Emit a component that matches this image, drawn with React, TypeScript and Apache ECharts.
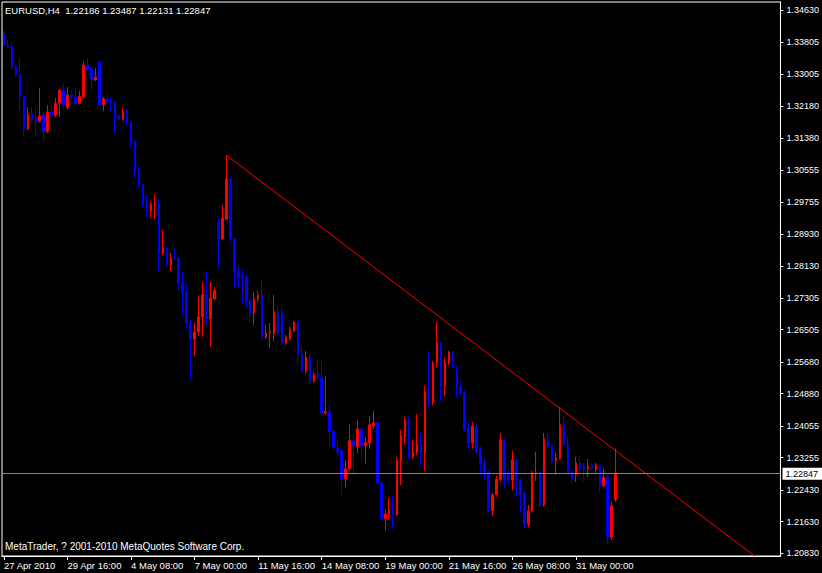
import React, { useEffect, useRef } from "react";
import * as echarts from "echarts";

const titleText = "EURUSD,H4  1.22186 1.23487 1.22131 1.22847";
const copyrightText = "MetaTrader, ? 2001-2010 MetaQuotes Software Corp.";

const opens = [
  1.3404, 1.3374, 1.3371, 1.3320, 1.3300, 1.3244, 1.3160, 1.3198, 1.3188, 1.3181,
  1.3196, 1.3155, 1.3204, 1.3196, 1.3226, 1.3259, 1.3216, 1.3247, 1.3242, 1.3226,
  1.3242, 1.3323, 1.3315, 1.3285, 1.3331, 1.3221, 1.3237, 1.3234, 1.3229, 1.3193,
  1.3186, 1.3209, 1.3178, 1.3130, 1.3051, 1.3021, 1.2972, 1.2952, 1.2967, 1.2970,
  1.2845, 1.2858, 1.2815, 1.2835, 1.2833, 1.2772, 1.2746, 1.2670, 1.2627, 1.2645,
  1.2683, 1.2739, 1.2678, 1.2729, 1.2924, 1.2881, 1.2932, 1.3033, 1.2881, 1.2797,
  1.2787, 1.2784, 1.2726, 1.2693, 1.2729, 1.2739, 1.2632, 1.2642, 1.2642, 1.2696,
  1.2693, 1.2617, 1.2627, 1.2647, 1.2670, 1.2589, 1.2546, 1.2581, 1.2520, 1.2536,
  1.2530, 1.2439, 1.2442, 1.2393, 1.2348, 1.2343, 1.2271, 1.2297, 1.2368, 1.2353,
  1.2398, 1.2355, 1.2363, 1.2406, 1.2414, 1.2261, 1.2170, 1.2180, 1.2193, 1.2180,
  1.2317, 1.2378, 1.2421, 1.2327, 1.2340, 1.2360, 1.2337, 1.2492, 1.2467, 1.2566,
  1.2617, 1.2507, 1.2566, 1.2594, 1.2546, 1.2505, 1.2492, 1.2401, 1.2363, 1.2406,
  1.2348, 1.2312, 1.2289, 1.2190, 1.2231, 1.2269, 1.2370, 1.2282, 1.2269, 1.2320,
  1.2269, 1.2236, 1.2157, 1.2190, 1.2284, 1.2287, 1.2205, 1.2373, 1.2355, 1.2317,
  1.2322, 1.2409, 1.2358, 1.2289, 1.2282, 1.2312, 1.2302, 1.2297, 1.2307, 1.2297,
  1.2307, 1.2253, 1.2276, 1.2124, 1.22186,
];
const highs = [
  1.3412, 1.3386, 1.3381, 1.3323, 1.3341, 1.3246, 1.3216, 1.3216, 1.3214, 1.3265,
  1.3204, 1.3221, 1.3221, 1.3239, 1.3262, 1.3277, 1.3267, 1.3259, 1.3265, 1.3257,
  1.3333, 1.3341, 1.3318, 1.3315, 1.3333, 1.3242, 1.3252, 1.3242, 1.3232, 1.3196,
  1.3214, 1.3211, 1.3181, 1.3132, 1.3066, 1.3023, 1.2993, 1.2975, 1.2995, 1.2983,
  1.2904, 1.2861, 1.2845, 1.2856, 1.2835, 1.2800, 1.2769, 1.2675, 1.2668, 1.2736,
  1.2772, 1.2797, 1.2772, 1.2759, 1.2934, 1.2967, 1.3094, 1.3036, 1.2884, 1.2810,
  1.2802, 1.2790, 1.2729, 1.2746, 1.2749, 1.2777, 1.2663, 1.2668, 1.2739, 1.2711,
  1.2708, 1.2637, 1.2657, 1.2673, 1.2673, 1.2609, 1.2597, 1.2591, 1.2543, 1.2574,
  1.2574, 1.2533, 1.2462, 1.2395, 1.2370, 1.2345, 1.2320, 1.2411, 1.2386, 1.2421,
  1.2400, 1.2378, 1.2431, 1.2444, 1.2416, 1.2263, 1.2195, 1.2223, 1.2226, 1.2327,
  1.2396, 1.2429, 1.2429, 1.2370, 1.2436, 1.2388, 1.2508, 1.2597, 1.2571, 1.2670,
  1.2620, 1.2578, 1.2597, 1.2597, 1.2561, 1.2520, 1.2495, 1.2416, 1.2416, 1.2409,
  1.2353, 1.2322, 1.2292, 1.2236, 1.2279, 1.2388, 1.2373, 1.2294, 1.2343, 1.2322,
  1.2271, 1.2238, 1.2205, 1.2292, 1.2340, 1.2289, 1.2388, 1.2393, 1.2358, 1.2337,
  1.2454, 1.2429, 1.2378, 1.2292, 1.2327, 1.2332, 1.2312, 1.2322, 1.2312, 1.2312,
  1.2310, 1.2297, 1.2279, 1.2213, 1.23487,
];
const lows = [
  1.3369, 1.3366, 1.3310, 1.3292, 1.3209, 1.3143, 1.3158, 1.3176, 1.3140, 1.3178,
  1.3132, 1.3150, 1.3191, 1.3191, 1.3191, 1.3209, 1.3211, 1.3234, 1.3224, 1.3224,
  1.3239, 1.3310, 1.3257, 1.3283, 1.3219, 1.3206, 1.3229, 1.3204, 1.3150, 1.3183,
  1.3183, 1.3168, 1.3115, 1.3036, 1.3011, 1.2960, 1.2937, 1.2937, 1.2932, 1.2800,
  1.2840, 1.2812, 1.2800, 1.2828, 1.2751, 1.2688, 1.2652, 1.2525, 1.2584, 1.2635,
  1.2632, 1.2663, 1.2607, 1.2726, 1.2807, 1.2878, 1.2929, 1.2873, 1.2759, 1.2759,
  1.2718, 1.2708, 1.2668, 1.2663, 1.2721, 1.2624, 1.2627, 1.2604, 1.2622, 1.2637,
  1.2612, 1.2612, 1.2624, 1.2645, 1.2561, 1.2541, 1.2538, 1.2513, 1.2515, 1.2523,
  1.2434, 1.2434, 1.2355, 1.2345, 1.2330, 1.2231, 1.2251, 1.2292, 1.2282, 1.2337,
  1.2320, 1.2309, 1.2348, 1.2398, 1.2259, 1.2165, 1.2139, 1.2167, 1.2144, 1.2178,
  1.2256, 1.2358, 1.2320, 1.2322, 1.2332, 1.2306, 1.2292, 1.2454, 1.2459, 1.2556,
  1.2469, 1.2482, 1.2561, 1.2553, 1.2477, 1.2485, 1.2391, 1.2348, 1.2348, 1.2335,
  1.2282, 1.2269, 1.2185, 1.2177, 1.2226, 1.2264, 1.2248, 1.2261, 1.2243, 1.2226,
  1.2185, 1.2147, 1.2149, 1.2185, 1.2266, 1.2200, 1.2200, 1.2350, 1.2312, 1.2282,
  1.2320, 1.2355, 1.2284, 1.2261, 1.2264, 1.2287, 1.2264, 1.2276, 1.2294, 1.2287,
  1.2238, 1.2251, 1.2106, 1.2116, 1.22131,
];
const closes = [
  1.3374, 1.3369, 1.3318, 1.3298, 1.3242, 1.3160, 1.3198, 1.3186, 1.3181, 1.3193,
  1.3155, 1.3204, 1.3196, 1.3226, 1.3259, 1.3221, 1.3247, 1.3242, 1.3226, 1.3244,
  1.3323, 1.3313, 1.3287, 1.3292, 1.3221, 1.3237, 1.3232, 1.3226, 1.3191, 1.3186,
  1.3206, 1.3176, 1.3127, 1.3051, 1.3018, 1.2967, 1.2952, 1.2970, 1.2970, 1.2845,
  1.2858, 1.2815, 1.2833, 1.2830, 1.2769, 1.2744, 1.2668, 1.2627, 1.2645, 1.2683,
  1.2739, 1.2678, 1.2731, 1.2751, 1.2881, 1.2934, 1.3033, 1.2881, 1.2797, 1.2784,
  1.2782, 1.2724, 1.2693, 1.2729, 1.2739, 1.2632, 1.2642, 1.2645, 1.2696, 1.2642,
  1.2617, 1.2632, 1.2652, 1.2670, 1.2586, 1.2546, 1.2581, 1.2520, 1.2536, 1.2530,
  1.2439, 1.2442, 1.2391, 1.2353, 1.2340, 1.2269, 1.2297, 1.2368, 1.2355, 1.2398,
  1.2355, 1.2363, 1.2409, 1.2414, 1.2261, 1.2170, 1.2182, 1.2193, 1.2180, 1.2317,
  1.2381, 1.2421, 1.2327, 1.2340, 1.2360, 1.2340, 1.2492, 1.2464, 1.2566, 1.2617,
  1.2507, 1.2566, 1.2594, 1.2568, 1.2502, 1.2490, 1.2396, 1.2363, 1.2406, 1.2340,
  1.2309, 1.2289, 1.2190, 1.2231, 1.2271, 1.2370, 1.2269, 1.2269, 1.2320, 1.2269,
  1.2233, 1.2157, 1.2190, 1.2287, 1.2287, 1.2205, 1.2373, 1.2353, 1.2317, 1.2325,
  1.2409, 1.2358, 1.2287, 1.2271, 1.2312, 1.2297, 1.2294, 1.2304, 1.2299, 1.2307,
  1.2253, 1.2276, 1.2124, 1.2203, 1.22847,
];

// x-axis: one slot per H4 bar, including empty slots to the right of the last bar
const slotCount = 196;
const barsPerLabel = 16;
const xTickLabels = [
  "27 Apr 2010", "29 Apr 16:00", "4 May 08:00", "7 May 00:00", "11 May 16:00",
  "14 May 08:00", "19 May 00:00", "21 May 16:00", "26 May 08:00", "31 May 00:00",
];
const yTickValues = [
  1.3463, 1.33805, 1.33005, 1.3218, 1.3138, 1.30555, 1.29755, 1.2893, 1.2813,
  1.27305, 1.26505, 1.2568, 1.2488, 1.24055, 1.23255, 1.2243, 1.2163, 1.2083,
];
const yMin = 1.20754;
const yMax = 1.34833;

// trend line anchor points [bar index, price]
const trendX = [56, 189];
const trendY = [1.3094, 1.2075];

const FONT = "Liberation Sans";

export default function App() {
  const ref = useRef<HTMLDivElement>(null);
  useEffect(() => {
    document.body.style.margin = "0";
    document.body.style.background = "#000";
    const chart = echarts.init(ref.current!, null, { renderer: "svg" });
    const categories = Array.from({ length: slotCount }, (_, i) => String(i));
    const candles = opens.map((o, i) => [o, closes[i], lows[i], highs[i]]);
    const lastClose = closes[closes.length - 1];
    const isLabelSlot = (i: number) =>
      i % barsPerLabel === 0 && i / barsPerLabel < xTickLabels.length;
    chart.setOption({
      animation: false,
      backgroundColor: "#000",
      textStyle: { fontFamily: FONT },
      title: [
        {
          text: titleText,
          left: 5,
          top: 5,
          padding: 0,
          textStyle: { color: "#fff", fontSize: 9.5, fontWeight: "normal", fontFamily: FONT },
        },
        {
          text: copyrightText,
          left: 5,
          top: 541,
          padding: 0,
          textStyle: { color: "#fff", fontSize: 10, fontWeight: "normal", fontFamily: FONT },
        },
      ],
      grid: {
        left: 2,
        right: 38,
        top: 2,
        bottom: 17,
        show: true,
        borderColor: "#fff",
        borderWidth: 1,
        backgroundColor: "transparent",
      },
      xAxis: {
        type: "category",
        data: categories,
        boundaryGap: true,
        axisLine: { show: true, lineStyle: { color: "#fff", width: 1 } },
        axisTick: {
          show: true,
          alignWithLabel: true,
          length: 4,
          interval: (i: number) => isLabelSlot(i),
          lineStyle: { color: "#fff" },
        },
        axisLabel: {
          show: true,
          interval: (i: number) => isLabelSlot(i),
          formatter: (_v: string, i: number) => xTickLabels[i / barsPerLabel] ?? "",
          color: "#fff",
          fontSize: 9.5,
          fontFamily: FONT,
          align: "left",
          margin: 4,
        },
        splitLine: { show: false },
      },
      yAxis: {
        type: "value",
        position: "right",
        min: yMin,
        max: yMax,
        axisLine: { show: true, lineStyle: { color: "#fff", width: 1 } },
        axisTick: {
          show: true,
          length: 3,
          customValues: yTickValues,
          lineStyle: { color: "#fff" },
        },
        axisLabel: {
          show: true,
          customValues: yTickValues,
          formatter: (v: number) => v.toFixed(5),
          color: "#fff",
          fontSize: 9,
          fontFamily: FONT,
          margin: 6,
        },
        splitLine: { show: false },
      },
      series: [
        {
          type: "candlestick",
          data: candles,
          barWidth: 2,
          itemStyle: {
            color: "#ff0000",
            color0: "#0000ff",
            borderColor: "#ff0000",
            borderColor0: "#0000ff",
            borderWidth: 1,
          },
          markLine: {
            silent: true,
            precision: 5,
            symbol: ["none", "none"],
            lineStyle: { color: "#778899", type: "solid", width: 1 },
            label: {
              show: true,
              position: "end",
              distance: 2,
              formatter: () => lastClose.toFixed(5),
              color: "#000",
              backgroundColor: "#fff",
              padding: [2, 6, 1, 3],
              fontSize: 9,
              fontFamily: FONT,
            },
            data: [{ yAxis: lastClose }],
          },
          z: 3,
        },
        {
          type: "line",
          data: trendX.map((x, i) => [x, trendY[i]]),
          symbol: "none",
          silent: true,
          lineStyle: { color: "#ff0000", width: 1 },
          z: 2,
        },
      ],
    });
    return () => chart.dispose();
  }, []);
  return (
    <div
      ref={ref}
      style={{ position: "fixed", left: 0, top: 0, width: 822, height: 573, background: "#000" }}
    />
  );
}
